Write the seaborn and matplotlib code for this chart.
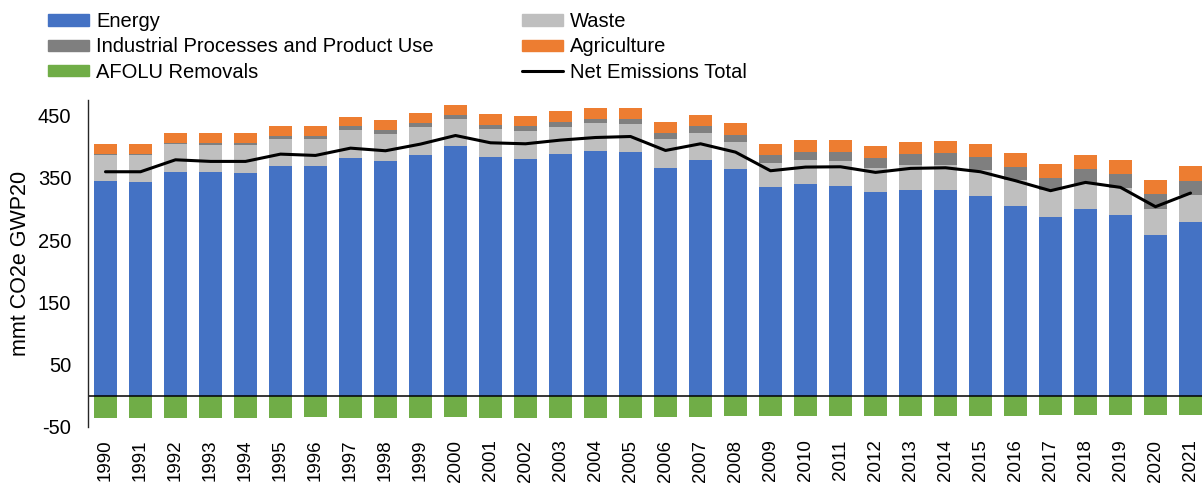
import numpy as np
import pandas as pd
import seaborn as sns
import matplotlib.pyplot as plt
from matplotlib.patches import Patch
from matplotlib.lines import Line2D

# values (mmt CO2e GWP20)
years = [str(y) for y in range(1990, 2022)]
energy = [345.4, 343.3, 359.3, 359.3, 358.2, 368.9, 368.4, 382.3, 376.9, 387.1,
          400.4, 383.3, 379.6, 387.6, 392.4, 390.8, 366.2, 378.0, 364.6, 335.8,
          340.1, 336.8, 326.7, 330.4, 329.9, 321.4, 305.3, 286.6, 300.0, 290.9,
          258.3, 279.2]
waste = [40.6, 42.7, 44.3, 43.8, 44.9, 43.8, 44.3, 43.8, 43.8, 43.8,
         44.4, 45.4, 45.9, 44.3, 44.9, 44.9, 45.4, 43.8, 43.3, 38.4,
         37.9, 39.6, 39.0, 39.6, 40.1, 41.1, 41.2, 43.8, 39.5, 42.2,
         41.7, 42.7]
ippu = [2.7, 2.7, 2.7, 2.7, 2.7, 4.8, 4.8, 6.4, 5.9, 6.9,
        6.4, 6.4, 7.5, 7.5, 7.5, 8.5, 9.7, 10.7, 11.2, 11.8,
        13.3, 15.5, 16.6, 18.7, 19.7, 20.8, 20.8, 19.8, 24.1, 22.4,
        24.0, 23.5]
agriculture = [16.0, 16.0, 16.0, 16.0, 16.0, 15.5, 15.5, 16.0, 16.0, 16.6,
               16.5, 17.1, 17.1, 18.2, 18.1, 17.7, 17.6, 18.1, 18.2, 18.7,
               18.7, 19.2, 19.2, 19.2, 19.8, 20.9, 22.4, 21.9, 22.4, 22.5,
               22.5, 23.0]
afolu = [-35.5, -35.5, -35.5, -35.5, -35.5, -35.5, -34.4, -35.5, -35.5, -35.5,
         -34.4, -35.5, -35.5, -35.5, -35.5, -35.5, -33.9, -33.9, -32.8, -32.8,
         -32.8, -32.3, -32.3, -32.3, -32.3, -32.3, -32.3, -31.2, -31.2, -30.7,
         -30.7, -30.1]
net_total = [359.8, 359.8, 379.0, 376.4, 376.4, 388.1, 386.0, 397.7, 393.5, 404.2,
             418.0, 406.3, 404.7, 410.6, 414.8, 416.4, 394.0, 404.7, 391.3, 361.4,
             367.3, 367.8, 358.8, 365.2, 366.2, 359.8, 345.4, 329.4, 342.7, 334.7,
             303.7, 325.6]

colors = {
    "Energy": "#4472C4",
    "Waste": "#BFBFBF",
    "Industrial Processes and Product Use": "#7F7F7F",
    "Agriculture": "#ED7D31",
    "AFOLU Removals": "#70AD47",
}

df = pd.DataFrame({"Year": years, "Energy": energy, "Waste": waste,
                   "IPPU": ippu, "Agriculture": agriculture,
                   "AFOLU": afolu, "Net": net_total})
# cumulative tops for stacking
df["c1"] = df["Energy"]
df["c2"] = df["c1"] + df["Waste"]
df["c3"] = df["c2"] + df["IPPU"]
df["c4"] = df["c3"] + df["Agriculture"]

sns.set_style("white")
plt.rcParams["font.family"] = ["Liberation Sans", "DejaVu Sans"]
plt.rcParams["axes.unicode_minus"] = False
plt.rcParams["text.color"] = "black"
plt.rcParams["axes.labelcolor"] = "black"
plt.rcParams["xtick.color"] = "black"
plt.rcParams["ytick.color"] = "black"

fig = plt.figure(figsize=(12.02, 4.87), dpi=100)
ax = fig.add_axes([88 / 1202, 60 / 487, 1120 / 1202, 327 / 487])

w = 0.66
stack = [("c4", colors["Agriculture"]),
         ("c3", colors["Industrial Processes and Product Use"]),
         ("c2", colors["Waste"]),
         ("c1", colors["Energy"])]
for col, c in stack:
    sns.barplot(data=df, x="Year", y=col, color=c, width=w, saturation=1,
                linewidth=0, ax=ax)
sns.barplot(data=df, x="Year", y="AFOLU", color=colors["AFOLU Removals"],
            width=w, saturation=1, linewidth=0, ax=ax)

sns.lineplot(x=np.arange(len(years)), y=df["Net"], color="black", lw=2.2, ax=ax)

ax.axhline(0, color="black", lw=1.1)
ax.set_xlim(-0.5, len(years) - 0.5)
ax.set_ylim(-50, 475)
ax.set_yticks([-50, 50, 150, 250, 350, 450])
ax.set_xticks(range(len(years)))
ax.set_xticklabels(years, rotation=90, fontsize=13.5)
ax.tick_params(axis="y", length=0, pad=12, labelsize=14.5)
ax.tick_params(axis="x", length=0, pad=9)
ax.set_xlabel("")
ax.set_ylabel("mmt CO2e GWP20", fontsize=15.5, labelpad=5)

for s in ["top", "right", "bottom"]:
    ax.spines[s].set_visible(False)
ax.spines["left"].set_color("#262626")
ax.spines["left"].set_linewidth(1.0)

leg_kw = dict(frameon=False, fontsize=14.5, handlelength=2.05, handleheight=0.5,
              handletextpad=0.35, labelspacing=0.32, borderpad=0, borderaxespad=0,
              loc="upper left")
h1 = [Patch(color=colors["Energy"], label="Energy"),
      Patch(color=colors["Industrial Processes and Product Use"],
            label="Industrial Processes and Product Use"),
      Patch(color=colors["AFOLU Removals"], label="AFOLU Removals")]
h2 = [Patch(color=colors["Waste"], label="Waste"),
      Patch(color=colors["Agriculture"], label="Agriculture"),
      Line2D([0], [0], color="black", lw=2.2, label="Net Emissions Total")]
fig.legend(handles=h1, bbox_to_anchor=(48 / 1202, 1 - 12 / 487), **leg_kw)
fig.legend(handles=h2, bbox_to_anchor=(522 / 1202, 1 - 12 / 487), **leg_kw)

fig.savefig("out.png", dpi=100)
